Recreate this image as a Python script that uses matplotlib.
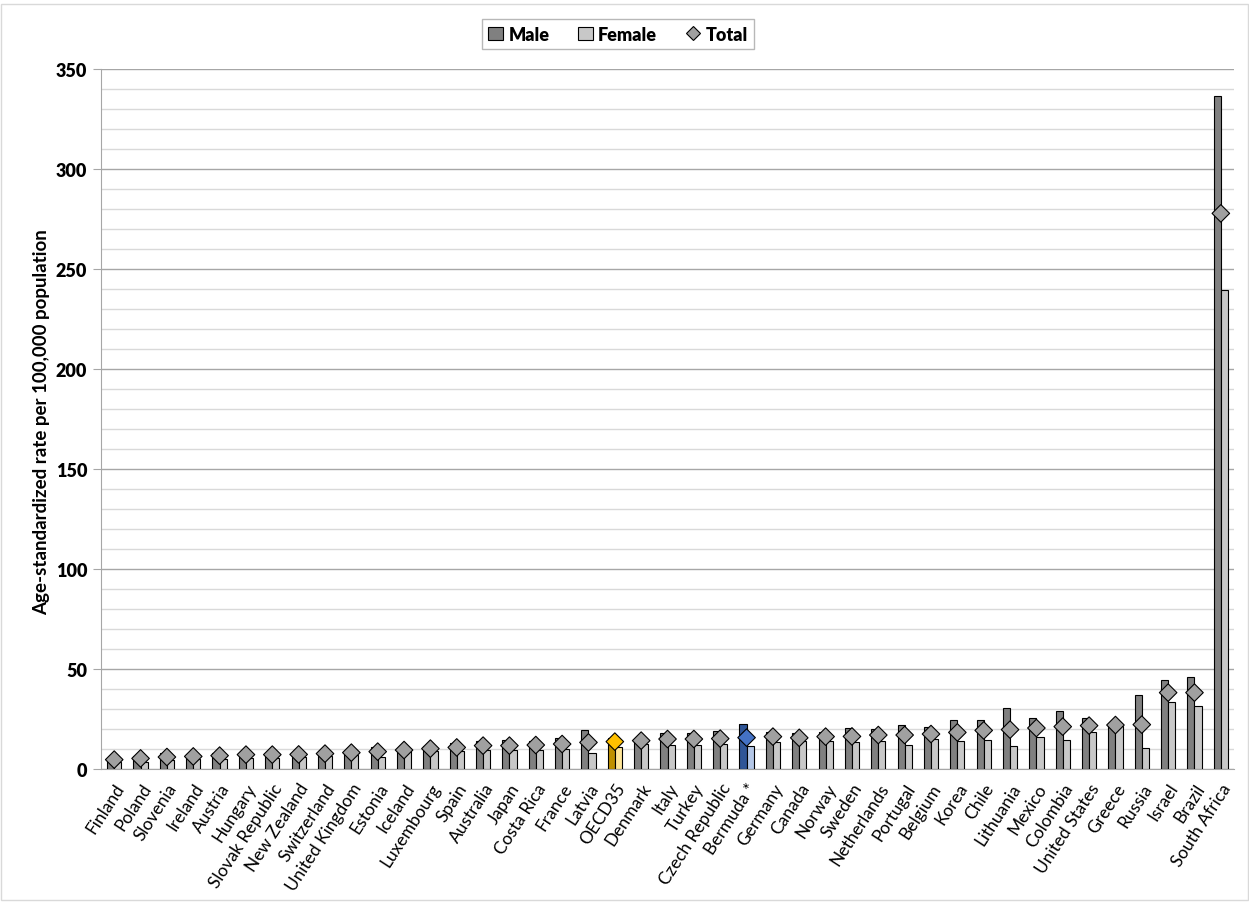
import matplotlib.pyplot as plt
from matplotlib.patches import Rectangle
from matplotlib.lines import Line2D
import numpy as np

countries = ["Finland", "Poland", "Slovenia", "Ireland", "Austria", "Hungary",
             "Slovak Republic", "New Zealand", "Switzerland", "United Kingdom",
             "Estonia", "Iceland", "Luxembourg", "Spain", "Australia", "Japan",
             "Costa Rica", "France", "Latvia", "OECD35", "Denmark", "Italy",
             "Turkey", "Czech Republic", "Bermuda *", "Germany", "Canada",
             "Norway", "Sweden", "Netherlands", "Portugal", "Belgium", "Korea",
             "Chile", "Lithuania", "Mexico", "Colombia", "United States",
             "Greece", "Russia", "Israel", "Brazil", "South Africa"]

male = [5.5, 6.7, 8.0, 7.3, 8.0, 7.8, 7.5, 7.7, 8.0, 9.0,
        10.8, 9.8, 11.5, 13.0, 13.8, 14.3, 13.8, 15.7, 19.7, 15.7,
        14.8, 18.2, 18.2, 19.0, 22.5, 18.5, 17.8, 18.7, 20.3, 20.0,
        22.0, 21.0, 24.5, 24.3, 30.7, 25.3, 29.2, 25.7, 22.7, 36.8,
        44.3, 45.8, 336.3]
female = [3.3, 3.3, 4.5, 4.8, 5.0, 5.3, 5.5, 6.0, 6.5, 7.0,
          6.2, 9.3, 8.8, 8.8, 9.5, 9.5, 9.5, 10.0, 8.0, 10.8,
          12.5, 11.8, 12.0, 12.5, 11.3, 13.3, 13.8, 13.8, 13.5, 14.2,
          12.2, 14.8, 14.2, 14.7, 11.7, 16.2, 14.5, 18.7, 21.3, 10.5,
          33.5, 31.3, 239.7]
total = [4.7, 5.3, 6.0, 6.3, 6.7, 7.2, 7.2, 7.3, 7.7, 8.2,
         8.7, 9.5, 10.2, 10.8, 11.7, 11.7, 12.0, 12.5, 13.3, 13.7,
         14.2, 15.0, 15.0, 15.2, 15.7, 16.2, 15.6, 16.2, 16.3, 17.0,
         17.0, 17.5, 18.3, 19.3, 19.7, 20.5, 21.2, 21.7, 22.0, 22.2,
         38.2, 38.2, 277.8]
y_ticks = [0, 50, 100, 150, 200, 250, 300, 350]

# highlighted categories: (male, female, total marker)
highlight = {
    "OECD35": ("#BF9000", "#FFE699", "#FFC000"),
    "Bermuda *": ("#2F5597", "#B4C7E7", "#4472C4"),
}

plt.rcParams['font.family'] = ['Lato', 'DejaVu Sans']

fig = plt.figure(figsize=(12.49, 9.04), dpi=100)
ax = fig.add_axes([0.0809, 0.1482, 0.9071, 0.7744])

x = np.arange(len(countries))
w = 0.27
m_colors = [highlight.get(c, ("#808080",))[0] for c in countries]
f_colors = [highlight[c][1] if c in highlight else "#C8C8C8" for c in countries]
t_colors = [highlight[c][2] if c in highlight else "#A0A0A0" for c in countries]

ax.bar(x - w / 2, male, width=w, color=m_colors, edgecolor="black", linewidth=0.8, zorder=3)
ax.bar(x + w / 2, female, width=w, color=f_colors, edgecolor="black", linewidth=0.8, zorder=3)
ax.scatter(x, total, marker="D", s=80, c=t_colors, edgecolors="black", linewidths=0.8, zorder=4)

ax.set_xlim(-0.5, len(countries) - 0.5)
ax.set_ylim(0, 350)
ax.set_yticks(y_ticks)
ax.set_yticks(np.arange(0, 351, 10), minor=True)
ax.grid(axis="y", which="major", color="#A6A6A6", linewidth=1.0, zorder=0)
ax.grid(axis="y", which="minor", color="#D9D9D9", linewidth=1.0, zorder=0)
ax.set_axisbelow(True)

for s in ["top", "right"]:
    ax.spines[s].set_visible(False)
ax.spines["left"].set_color("#A6A6A6")
ax.spines["bottom"].set_color("#A6A6A6")
ax.tick_params(axis="y", which="major", length=6, color="#A6A6A6", labelsize=13, pad=4)
ax.tick_params(axis="y", which="minor", length=0)
ax.tick_params(axis="x", length=0, labelsize=12.5, pad=8)

ax.set_xticks(x)
ax.set_xticklabels(countries, rotation=57, ha="right", rotation_mode="anchor")
ax.set_ylabel("Age-standardized rate per 100,000 population", fontsize=13.5, fontweight="bold")
ax.yaxis.set_label_coords(-0.045, 0.497)

handles = [
    Rectangle((0, 0), 1, 1, facecolor="#808080", edgecolor="black", linewidth=0.8),
    Rectangle((0, 0), 1, 1, facecolor="#C8C8C8", edgecolor="black", linewidth=0.8),
    Line2D([], [], marker="D", linestyle="none", markersize=7, markerfacecolor="#A0A0A0",
           markeredgecolor="black", markeredgewidth=0.8),
]
leg = fig.legend(handles, ["Male", "Female", "Total"], loc="center", bbox_to_anchor=(0.495, 0.961),
                 ncol=3, frameon=True, fancybox=False, edgecolor="#A6A6A6",
                 prop={"weight": "heavy", "size": 13}, handlelength=0.8, handleheight=0.8,
                 handletextpad=0.3, columnspacing=1.6, borderpad=0.35)
leg.get_frame().set_linewidth(1.0)

fig.patches.append(Rectangle((0.001, 0.003), 0.998, 0.992, transform=fig.transFigure,
                             fill=False, edgecolor="#D9D9D9", linewidth=1.0))

fig.canvas.draw()
for lab in ax.get_yticklabels():
    lab.set_fontweight("heavy")

fig.savefig("out.png", dpi=100)
